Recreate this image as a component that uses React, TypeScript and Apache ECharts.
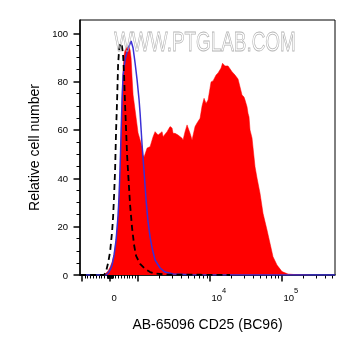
import React, { useEffect, useRef } from 'react';
import * as echarts from 'echarts';

const xTitle = 'AB-65096 CD25 (BC96)';
const yTitle = 'Relative cell number';
const watermark = 'WWW.PTGLAB.COM';

// x positions are in display (channel) units of the biexponential axis
const redX = [-6, -4, -2, 0, 2, 4, 6, 8, 9, 10, 11, 12, 13, 14, 15, 17, 19, 20, 21, 22, 23, 25, 28, 32, 33, 34, 37, 40, 43, 45, 48, 52, 53, 57, 60, 62, 63, 65, 68, 72, 73, 75, 77, 80, 82, 85, 87, 90, 92, 94, 96, 98, 101, 103, 106, 108, 111, 112.5, 115, 118, 122, 125, 128, 130, 132, 134, 135, 137, 138, 139, 140, 142, 144, 145, 147, 150, 153, 157, 160, 163, 167, 172, 178, 187, 200];
const redY = [0, 0.8, 1.7, 3.3, 5.4, 8.7, 14.5, 24.8, 33.1, 43.4, 57.9, 72.4, 84.8, 91.0, 93.1, 94.3, 94.3, 93.1, 89.8, 81.5, 74.5, 68.3, 58.8, 53.1, 49.6, 48.8, 52.5, 53.1, 57.2, 59.3, 57.9, 59.3, 57.2, 59.3, 61.4, 60.8, 58.6, 58.6, 57.9, 56.6, 55.9, 59.3, 62.1, 58.6, 55.9, 61.4, 62.9, 64.8, 69.9, 73.1, 71.0, 72.4, 79.9, 80.3, 82.7, 83.6, 85.6, 87.6, 86.5, 86.5, 84.1, 82.7, 81.1, 77.8, 74.5, 73.6, 72.4, 69.6, 66.9, 65.4, 60.0, 56.7, 48.8, 44.8, 40.1, 33.8, 25.5, 18.6, 13.1, 7.6, 4.1, 1.4, 0.4, 0.1, 0];

const blueX = [-30, -4, -2, 0, 2, 4, 6, 8, 9, 10, 11, 12, 13, 15, 17, 19, 21, 23, 25, 27, 29, 30, 32, 34, 36, 38, 40, 42, 45, 50, 55, 63, 80, 225];
const blueY = [0, 0, 0.8, 2.1, 4.1, 8.3, 14.5, 24.8, 33.1, 44.3, 58.8, 73.2, 82.7, 89.0, 92.3, 94.7, 96.8, 93.9, 87.7, 80.7, 72.4, 67.0, 53.8, 42.6, 31.0, 21.9, 15.7, 11.2, 6.2, 2.9, 1.2, 0.4, 0.1, 0];

const isoX = [-30, -6, -4, -2, 0, 2, 3, 4, 5, 6, 7, 8, 9, 10, 11, 12, 13, 14, 15, 16, 17, 18, 20, 22, 24, 26, 30, 35, 40, 45, 55, 90, 120];
const isoY = [0, 0, 1.5, 5.0, 9.6, 18.0, 24.0, 33.0, 43.4, 60.0, 72.4, 86.9, 93.1, 95.6, 96.0, 94.3, 91.0, 82.7, 70.3, 60.0, 49.6, 42.6, 29.0, 19.4, 12.4, 7.9, 4.6, 2.5, 1.2, 0.6, 0.2, 0.1, 0];

const yMajorTicks = [0, 20, 40, 60, 80, 100];
const yMinorTicks = [5, 10, 15, 25, 30, 35, 45, 50, 55, 65, 70, 75, 85, 90, 95];
const yMax = 105.5;

const xRange = [-1070, 545000];
const xMajorTicks = [-1000, 0, 1000, 10000, 100000];
const xLabelValues = [0, 10000, 100000];
const xLabelBase = ['0', '10', '10'];
const xLabelSup = ['', '4', '5'];
const xMinorTicks = [
  -900, -800, -700, -600, -500, -400, -300, -200, -100,
  -90, -80, -70, -60, -50, -40, -30, -20, -10,
  10, 20, 30, 40, 50, 60, 70, 80, 90,
  100, 200, 300, 400, 500, 600, 700, 800, 900,
  2000, 3000, 4000, 5000, 6000, 7000, 8000, 9000,
  20000, 30000, 40000, 50000, 60000, 70000, 80000, 90000,
  200000, 300000, 400000, 500000,
];

// biexponential display transform: linear near zero, log above 10^3
const LIN_SLOPE = 0.028;
const DECADE = 72;
function T(v: number): number {
  const a = Math.abs(v);
  if (a <= 1000) return v * LIN_SLOPE;
  const s = v < 0 ? -1 : 1;
  return s * (1000 * LIN_SLOPE + DECADE * Math.log10(a / 1000));
}

const font = '"Liberation Sans", Arial, sans-serif';

export default function App() {
  const ref = useRef<HTMLDivElement>(null);
  useEffect(() => {
    if (!ref.current) return;
    const chart = echarts.init(ref.current, null, { renderer: 'svg' });
    const zip = (xs: number[], ys: number[]) => xs.map((x, i) => [x, ys[i]]);
    const xMin = T(xRange[0]);
    const xMax = T(xRange[1]);
    const labelU = xLabelValues.map(T);
    chart.setOption({
      animation: false,
      grid: {
        left: 80, right: 21, top: 20, bottom: 78,
        show: true, borderColor: '#000', borderWidth: 1, backgroundColor: 'transparent',
      },
      xAxis: [
        {
          type: 'value', min: xMin, max: xMax, position: 'bottom',
          name: xTitle, nameLocation: 'middle', nameGap: 42,
          nameTextStyle: { fontSize: 14, fontFamily: font, color: '#000' },
          axisLine: { show: true, onZero: false, lineStyle: { color: '#000', width: 1.5 } },
          axisTick: { show: true, customValues: xMajorTicks.map(T), length: 6.5, lineStyle: { color: '#000', width: 1.5 } },
          axisLabel: {
            show: true, customValues: labelU, margin: 3, align: 'left', padding: [0, 0, 0, 1.5],
            lineHeight: 24,
            formatter: (val: number) => {
              let idx = 0;
              let best = Infinity;
              labelU.forEach((u, i) => {
                const d = Math.abs(u - val);
                if (d < best) { best = d; idx = i; }
              });
              const sup = xLabelSup[idx];
              return sup ? `{b|${xLabelBase[idx]}}{s|${sup}}` : `{b|${xLabelBase[idx]}}`;
            },
            rich: {
              b: { fontSize: 9.5, fontFamily: font, color: '#000', lineHeight: 24, verticalAlign: 'bottom' },
              s: { fontSize: 7.5, fontFamily: font, color: '#000', lineHeight: 10, verticalAlign: 'top', padding: [8, 0, 0, 0] },
            },
          },
          splitLine: { show: false },
        },
        {
          type: 'value', min: xMin, max: xMax, position: 'bottom',
          axisLine: { show: false, onZero: false },
          axisTick: { show: true, customValues: xMinorTicks.map(T), length: 3.5, lineStyle: { color: '#000', width: 1 } },
          axisLabel: { show: false },
          splitLine: { show: false },
        },
      ],
      yAxis: [
        {
          type: 'value', min: 0, max: yMax, position: 'left',
          name: yTitle, nameLocation: 'middle', nameGap: 39,
          nameTextStyle: { fontSize: 14, fontFamily: font, color: '#000' },
          axisLine: { show: true, onZero: false, lineStyle: { color: '#000', width: 1.5 } },
          axisTick: { show: true, customValues: yMajorTicks, length: 6.5, lineStyle: { color: '#000', width: 1.5 } },
          axisLabel: { show: true, customValues: yMajorTicks, margin: 12, fontSize: 9.5, fontFamily: font, color: '#000' },
          splitLine: { show: false },
        },
        {
          type: 'value', min: 0, max: yMax, position: 'left',
          axisLine: { show: false, onZero: false },
          axisTick: { show: true, customValues: yMinorTicks, length: 3.5, lineStyle: { color: '#000', width: 1 } },
          axisLabel: { show: false },
          splitLine: { show: false },
        },
      ],
      series: [
        {
          type: 'line', name: 'stained', data: zip(redX, redY), symbol: 'none',
          lineStyle: { width: 0.5, color: '#ff0000' }, itemStyle: { color: '#ff0000' },
          areaStyle: { color: '#ff0000', opacity: 1 }, z: 2,
        },
        {
          type: 'line', name: 'unstained', data: zip(blueX, blueY), symbol: 'none',
          lineStyle: { width: 1.5, color: '#3a2fd6' }, itemStyle: { color: '#3a2fd6' }, z: 3,
        },
        {
          type: 'line', name: 'isotype', data: zip(isoX, isoY), symbol: 'none',
          lineStyle: { width: 1.8, color: '#000', type: [6, 4] }, itemStyle: { color: '#000' }, z: 4,
        },
      ],
      graphic: [
        {
          type: 'text', x: 205, y: 42, scaleX: 0.7, z: 100, silent: true,
          style: {
            text: watermark, fontSize: 27, fontFamily: font,
            fill: 'rgba(255,255,255,0)', stroke: '#b4b4b4', lineWidth: 0.8,
            align: 'center', verticalAlign: 'middle',
          },
        },
      ],
    });
    return () => chart.dispose();
  }, []);
  return <div ref={ref} style={{ position: 'fixed', left: 0, top: 0, width: 356, height: 353 }} />;
}
